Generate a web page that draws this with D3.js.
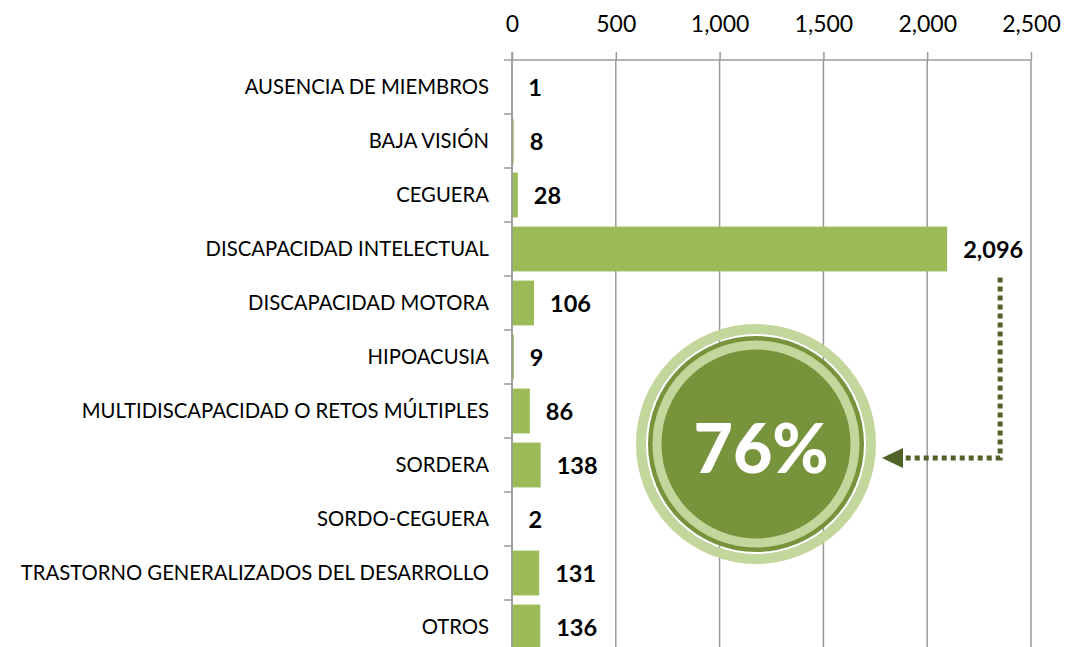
<!DOCTYPE html>
<html>
<head>
<meta charset="utf-8">
<script src="https://cdn.jsdelivr.net/npm/d3@7"></script>
<style>
	body { margin: 0; background: #fff; }
	svg { font-family: Lato, "Open Sans", sans-serif; }
</style>
</head>
<body>
<div id="chart"></div>
<script>
var categories = ["AUSENCIA DE MIEMBROS", "BAJA VISIÓN", "CEGUERA", "DISCAPACIDAD INTELECTUAL",
	"DISCAPACIDAD MOTORA", "HIPOACUSIA", "MULTIDISCAPACIDAD O RETOS MÚLTIPLES", "SORDERA",
	"SORDO-CEGUERA", "TRASTORNO GENERALIZADOS DEL DESARROLLO", "OTROS"];
var values = [1, 8, 28, 2096, 106, 9, 86, 138, 2, 131, 136];
var xTicks = [0, 500, 1000, 1500, 2000, 2500];
var highlight = "DISCAPACIDAD INTELECTUAL";
var shareLabel = "76%";

function init(){
	var w = 1067;
	var h = 647;

	var svg = d3.select("#chart")
				.append("svg")
				.attr("width", w)
				.attr("height", h);

	var x = d3.scaleLinear()
				.domain([0, 2500])
				.range([512, 1031]);

	var y = d3.scaleBand()
				.domain(categories)
				.range([60, 654])
				.paddingInner(0.17)
				.paddingOuter(0.085);

	var step = y.step();

	//gridlines
	svg.selectAll("line.grid")
		.data(xTicks)
		.enter()
		.append("line")
		.attr("class", "grid")
		.attr("x1", function(d){ return x(d); })
		.attr("x2", function(d){ return x(d); })
		.attr("y1", 60)
		.attr("y2", h)
		.style("stroke", "#9a9a9a")
		.style("stroke-width", 1.5);

	//top axis
	var xAxis = d3.axisTop(x)
				.tickValues(xTicks)
				.tickSize(8)
				.tickPadding(20)
				.tickFormat(d3.format(","));

	var gx = svg.append("g")
				.attr("transform", "translate(0,60)")
				.call(xAxis);
	gx.select(".domain").remove();
	gx.append("line")
		.attr("x1", 504).attr("x2", x(2500))
		.attr("y1", 0).attr("y2", 0)
		.style("stroke", "#9a9a9a").style("stroke-width", 1.5);
	gx.selectAll(".tick line").style("stroke", "#9a9a9a").style("stroke-width", 1.5);
	gx.selectAll(".tick text")
		.style("font-family", "Lato, sans-serif")
		.style("font-size", "23px")
		.style("fill", "#000");

	//category tick marks on the left
	svg.selectAll("line.ctick")
		.data(categories.slice(1))
		.enter()
		.append("line")
		.attr("class", "ctick")
		.attr("x1", 504)
		.attr("x2", 512)
		.attr("y1", function(d){ return y(d) - step * y.paddingInner() / 2; })
		.attr("y2", function(d){ return y(d) - step * y.paddingInner() / 2; })
		.style("stroke", "#9a9a9a")
		.style("stroke-width", 1.5);

	//bars
	svg.selectAll("rect.bar")
		.data(values)
		.enter()
		.append("rect")
		.attr("class", "bar")
		.attr("x", x(0))
		.attr("y", function(d, i){ return y(categories[i]); })
		.attr("width", function(d){ return x(d) - x(0); })
		.attr("height", y.bandwidth())
		.style("fill", "#9bbb59");

	//axis line at zero
	svg.append("line")
		.attr("x1", x(0)).attr("x2", x(0))
		.attr("y1", 52).attr("y2", h)
		.style("stroke", "#9a9a9a").style("stroke-width", 1.5);

	//category labels
	svg.selectAll("text.cat")
		.data(categories)
		.enter()
		.append("text")
		.attr("class", "cat")
		.text(function(d){ return d; })
		.attr("x", 489)
		.attr("y", function(d){ return y(d) + y.bandwidth() / 2; })
		.attr("dy", "0.35em")
		.attr("text-anchor", "end")
		.style("font-size", "20.3px")
		.style("fill", "#000");

	//value labels
	svg.selectAll("text.val")
		.data(values)
		.enter()
		.append("text")
		.attr("class", "val")
		.text(function(d){ return d3.format(",")(d); })
		.attr("x", function(d){ return x(d) + 16; })
		.attr("y", function(d, i){ return y(categories[i]) + y.bandwidth() / 2 + 1; })
		.attr("dy", "0.35em")
		.style("font-size", "23.5px")
		.style("font-weight", "bold")
		.style("fill", "#000");

	//highlight badge
	var cx = 756, cy = 444;
	var badge = svg.append("g");
	badge.append("circle").attr("cx", cx).attr("cy", cy).attr("r", 115)
		.style("fill", "none").style("stroke", "#c3d69b").style("stroke-width", 10);
	badge.append("circle").attr("cx", cx).attr("cy", cy).attr("r", 108)
		.style("fill", "#77933c");
	badge.append("circle").attr("cx", cx).attr("cy", cy).attr("r", 99)
		.style("fill", "none").style("stroke", "#c3d69b").style("stroke-width", 9);
	badge.append("text")
		.text(shareLabel)
		.attr("x", cx + 5)
		.attr("y", cy + 29)
		.attr("text-anchor", "middle")
		.style("font-size", "68px")
		.style("font-weight", 900)
		.style("fill", "#fff");

	//dotted arrow from the highlighted bar's label to the badge
	var hv = values[categories.indexOf(highlight)];
	var ax = x(hv) + 53;
	var ay0 = y(highlight) + y.bandwidth() + 6;
	var ay1 = 458;
	svg.append("path")
		.attr("d", "M" + ax + "," + ay0 + "V" + ay1 + "H" + 903)
		.style("fill", "none")
		.style("stroke", "#4f6228")
		.style("stroke-width", 5)
		.style("stroke-dasharray", "5,4");
	svg.append("path")
		.attr("d", "M882," + ay1 + "L903," + (ay1 - 10) + "L903," + (ay1 + 10) + "Z")
		.style("fill", "#4f6228");
}

window.onload = init;
</script>
</body>
</html>
